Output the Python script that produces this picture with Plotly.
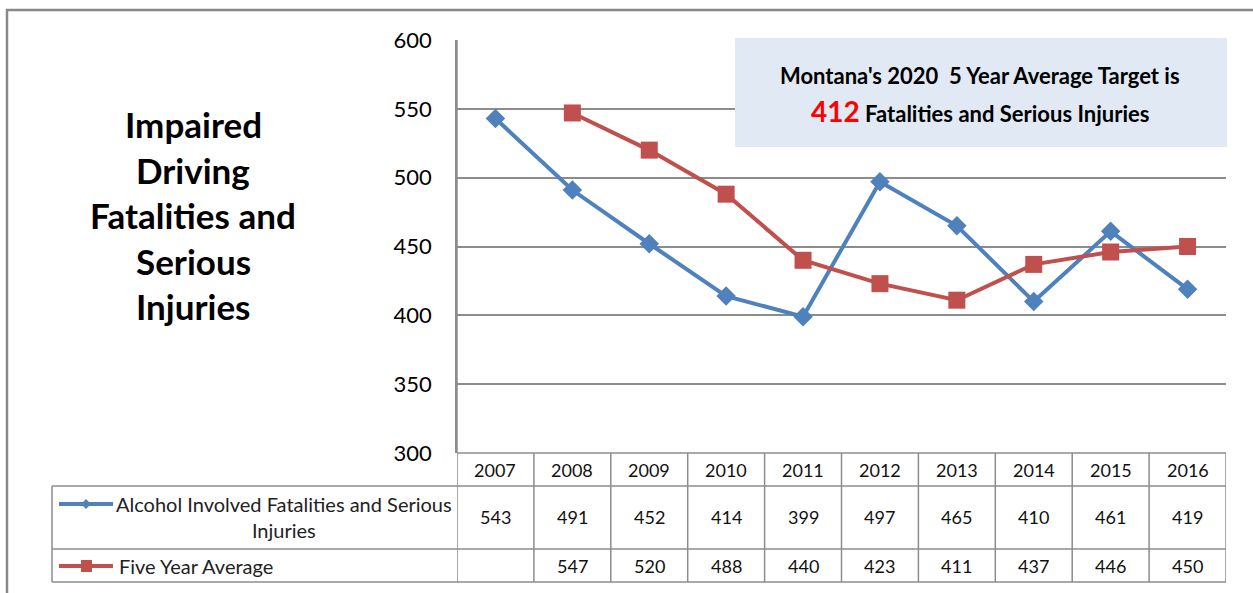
import plotly.graph_objects as go

years = ["2007", "2008", "2009", "2010", "2011", "2012", "2013", "2014", "2015", "2016"]
alcohol = [543, 491, 452, 414, 399, 497, 465, 410, 461, 419]
five_year = [None, 547, 520, 488, 440, 423, 411, 437, 446, 450]
series_names = ["Alcohol Involved Fatalities and Serious<br>Injuries", "Five Year Average"]
title_lines = ["Impaired", "Driving", "Fatalities and", "Serious", "Injuries"]
y_ticks = [300, 350, 400, 450, 500, 550, 600]

W, H = 1253, 593
BLUE = "#4F81BD"
RED = "#C0504D"
GRID = "#8C8C8C"
FONT = "Lato"

def px(x):
    return x / W

def py(y):
    return 1 - y / H

# plot area in pixels
PL, PR, PT, PB = 457, 1226, 40, 453
ROW1_TOP, ROW2_TOP, TABLE_BOT = 486, 549, 582
LEG_LEFT = 52

xs = list(range(len(years)))

fig = go.Figure()
fig.add_trace(go.Scatter(
    x=xs, y=alcohol, mode="lines+markers", name="alcohol",
    line=dict(color=BLUE, width=4),
    marker=dict(symbol="diamond", size=15, color=BLUE),
    cliponaxis=False, showlegend=False, hoverinfo="skip"))
fig.add_trace(go.Scatter(
    x=xs, y=five_year, mode="lines+markers", name="five",
    line=dict(color=RED, width=4),
    marker=dict(symbol="square", size=17, color=RED),
    cliponaxis=False, showlegend=False, hoverinfo="skip"))

shapes = []
annotations = []

# outer frame
shapes.append(dict(type="rect", xref="paper", yref="paper",
                   x0=px(7), x1=px(1262), y0=py(10), y1=py(610),
                   line=dict(color="#888888", width=2.5), fillcolor="rgba(0,0,0,0)", layer="below"))

# target box
shapes.append(dict(type="rect", xref="paper", yref="paper",
                   x0=px(735), x1=px(1227), y0=py(38), y1=py(147),
                   line=dict(width=0), fillcolor="#E1E9F4", layer="above"))

# table grid lines
line_style = dict(color=GRID, width=1.5)
for i in range(len(years) + 1):
    top = PT if i == 0 else PB
    shapes.append(dict(type="line", xref="x", yref="paper",
                       x0=i - 0.5, x1=i - 0.5, y0=py(top), y1=py(TABLE_BOT), line=line_style))
shapes.append(dict(type="line", xref="paper", yref="paper",
                   x0=px(PL), x1=px(PR), y0=py(PB), y1=py(PB), line=line_style))
for yy in (ROW1_TOP, ROW2_TOP, TABLE_BOT):
    shapes.append(dict(type="line", xref="paper", yref="paper",
                       x0=px(LEG_LEFT), x1=px(PR), y0=py(yy), y1=py(yy), line=line_style))
shapes.append(dict(type="line", xref="paper", yref="paper",
                   x0=px(LEG_LEFT), x1=px(LEG_LEFT), y0=py(ROW1_TOP), y1=py(TABLE_BOT), line=line_style))

# legend keys in table
r1y, r2y = 504, 566
shapes.append(dict(type="line", xref="paper", yref="paper",
                   x0=px(59), x1=px(113), y0=py(r1y), y1=py(r1y),
                   line=dict(color=BLUE, width=4)))
shapes.append(dict(type="path", xref="paper", yref="paper",
                   path=f"M {px(86)},{py(r1y-5)} L {px(91)},{py(r1y)} L {px(86)},{py(r1y+5)} L {px(81)},{py(r1y)} Z",
                   fillcolor=BLUE, line=dict(width=0)))
shapes.append(dict(type="line", xref="paper", yref="paper",
                   x0=px(59), x1=px(113), y0=py(r2y), y1=py(r2y),
                   line=dict(color=RED, width=4)))
shapes.append(dict(type="rect", xref="paper", yref="paper",
                   x0=px(81), x1=px(92), y0=py(r2y-6), y1=py(r2y+6),
                   fillcolor=RED, line=dict(width=0)))

# legend text
annotations.append(dict(xref="paper", yref="paper", x=px(284), y=py(517),
                        text=series_names[0], showarrow=False, align="center",
                        xanchor="center", yanchor="middle",
                        font=dict(family=FONT, size=20, color="#222")))
annotations.append(dict(xref="paper", yref="paper", x=px(117), y=py(r2y),
                        text=series_names[1], showarrow=False, align="left",
                        xanchor="left", yanchor="middle",
                        font=dict(family=FONT, size=20, color="#222")))

# table values
cell_font = dict(family=FONT, size=18, color="#111")
for i, yr in enumerate(years):
    annotations.append(dict(xref="x", yref="paper", x=i, y=py(470), text=yr,
                            showarrow=False, yanchor="middle", font=cell_font))
    annotations.append(dict(xref="x", yref="paper", x=i, y=py(517), text=str(alcohol[i]),
                            showarrow=False, yanchor="middle", font=cell_font))
    if five_year[i] is not None:
        annotations.append(dict(xref="x", yref="paper", x=i, y=py(566), text=str(five_year[i]),
                                showarrow=False, yanchor="middle", font=cell_font))

# title
for k, t in enumerate(title_lines):
    annotations.append(dict(xref="paper", yref="paper", x=px(193), y=py(124 + k * 45.5),
                            text=f"<b>{t}</b>", showarrow=False, xanchor="center", yanchor="middle",
                            font=dict(family=FONT, size=35, color="#000")))

# target text
annotations.append(dict(xref="paper", yref="paper", x=px(980), y=py(75),
                        text="<b>Montana's 2020  5 Year Average Target is</b>", showarrow=False,
                        xanchor="center", yanchor="middle",
                        font=dict(family=FONT, size=22, color="#000")))
annotations.append(dict(xref="paper", yref="paper", x=px(980), y=py(111),
                        text="<b><span style='font-size:28px;color:#FF0000'>412</span> Fatalities and Serious Injuries</b>",
                        showarrow=False, xanchor="center", yanchor="middle",
                        font=dict(family=FONT, size=22, color="#000")))

fig.update_layout(
    width=W, height=H,
    margin=dict(l=0, r=0, t=0, b=0, autoexpand=False),
    paper_bgcolor="white", plot_bgcolor="white",
    xaxis=dict(domain=[px(PL), px(PR)], range=[-0.5, len(years) - 0.5],
               showgrid=False, zeroline=False, showticklabels=False, ticks="", fixedrange=True),
    yaxis=dict(domain=[py(PB), py(PT)], range=[300, 600], tickvals=y_ticks,
               showgrid=True, gridcolor=GRID, gridwidth=1.5, zeroline=False,
               showline=True, linecolor=GRID, linewidth=1.5,
               ticks="", ticklabelstandoff=19, automargin=False,
               tickfont=dict(family=FONT, size=22, color="#000")),
    shapes=shapes, annotations=annotations,
    showlegend=False,
)

fig.write_html("out.html", config={"displayModeBar": False},
               post_script="document.body.style.margin='0px';")
